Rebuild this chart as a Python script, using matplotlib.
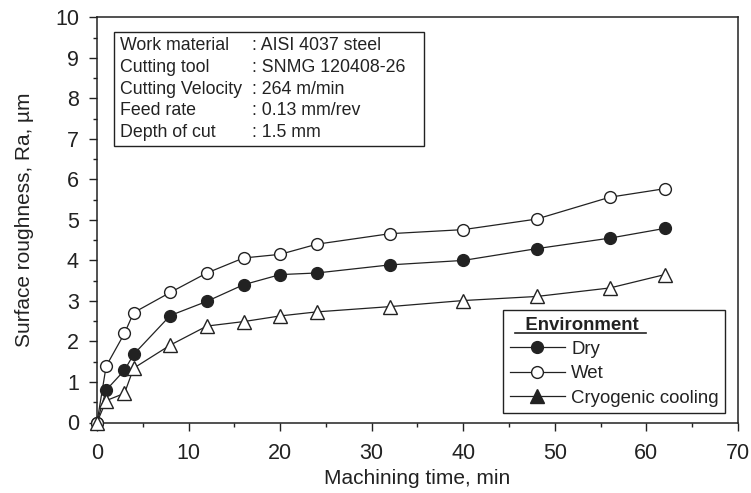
import matplotlib
matplotlib.use("Agg")
import matplotlib.pyplot as plt
from matplotlib.lines import Line2D
from matplotlib.patches import Rectangle
from matplotlib.ticker import MultipleLocator

plt.rcParams['font.family'] = ['Liberation Sans', 'DejaVu Sans']

# ---- data ----
time_min = [0, 1, 3, 4, 8, 12, 16, 20, 24, 32, 40, 48, 56, 62]
dry = [0, 0.80, 1.29, 1.68, 2.64, 2.99, 3.40, 3.65, 3.69, 3.89, 4.00, 4.29, 4.55, 4.79]
wet = [0, 1.39, 2.20, 2.71, 3.21, 3.69, 4.06, 4.15, 4.40, 4.66, 4.76, 5.02, 5.56, 5.77]
cryo = [0, 0.54, 0.72, 1.34, 1.91, 2.38, 2.49, 2.63, 2.73, 2.86, 3.01, 3.11, 3.32, 3.65]
series_labels = ["Dry", "Wet", "Cryogenic cooling"]
legend_title = "Environment"
info_keys = ["Work material", "Cutting tool", "Cutting Velocity", "Feed rate", "Depth of cut"]
info_vals = [": AISI 4037 steel", ": SNMG 120408-26", ": 264 m/min", ": 0.13 mm/rev", ": 1.5 mm"]
x_label = "Machining time, min"
y_label = "Surface roughness, Ra, \u00b5m"

W, H = 751, 493
fig = plt.figure(figsize=(W / 100, H / 100), dpi=100)
L, R, T, B = 97, 738, 17.3, 422.5
ax = fig.add_axes([L / W, 1 - B / H, (R - L) / W, (B - T) / H])

tc = '#222222'
lw = 0.9
ms = 8.5
ax.plot(time_min, dry, '-', color=tc, lw=lw, marker='o', ms=ms, mfc=tc, mec=tc, mew=1.0, clip_on=False, zorder=3)
ax.plot(time_min, wet, '-', color=tc, lw=lw, marker='o', ms=ms, mfc='white', mec=tc, mew=1.0, clip_on=False, zorder=3)
ax.plot(time_min, cryo, '-', color=tc, lw=lw, marker='^', ms=ms + 1, mfc='white', mec=tc, mew=1.0, clip_on=False, zorder=3)

ax.set_xlim(0, 70)
ax.set_ylim(0, 10)
ax.xaxis.set_major_locator(MultipleLocator(10))
ax.xaxis.set_minor_locator(MultipleLocator(5))
ax.yaxis.set_major_locator(MultipleLocator(1))
ax.yaxis.set_minor_locator(MultipleLocator(0.5))
ax.tick_params(which='major', direction='out', length=6, width=1.0, color=tc,
               labelsize=15.5, labelcolor=tc)
ax.tick_params(axis='x', which='major', pad=9)
ax.tick_params(axis='y', which='major', pad=7)
ax.tick_params(which='minor', direction='out', length=3, width=1.0, color=tc)
for s in ax.spines.values():
    s.set_linewidth(1.1)
    s.set_color(tc)

ax.set_xlabel(x_label, fontsize=15, color=tc, labelpad=3)
ax.set_ylabel(y_label, fontsize=15, color=tc, labelpad=15)

# ---- info box ----
def px2ax(x, y):
    return (x - L) / (R - L), (B - y) / (B - T)

bx0, by0 = px2ax(114, 146)
bx1, by1 = px2ax(424, 31.7)
ax.add_patch(Rectangle((bx0, by0), bx1 - bx0, by1 - by0, transform=ax.transAxes,
                       fill=True, facecolor='white', edgecolor=tc, lw=1.0, zorder=4))
for i, (k, v) in enumerate(zip(info_keys, info_vals)):
    yy = 45.7 + 21.75 * i
    kx, ky = px2ax(120, yy)
    vx, _ = px2ax(252, yy)
    ax.text(kx, ky, k, transform=ax.transAxes, fontsize=12.8, color=tc, va='center', ha='left', zorder=5)
    ax.text(vx, ky, v, transform=ax.transAxes, fontsize=12.8, color=tc, va='center', ha='left', zorder=5)

# ---- legend ----
handles = [
    Line2D([], [], color=tc, lw=lw, marker='o', ms=ms, mfc=tc, mec=tc),
    Line2D([], [], color=tc, lw=lw, marker='o', ms=ms, mfc='white', mec=tc),
    Line2D([], [], color=tc, lw=lw, marker='^', ms=ms + 1, mfc=tc, mec=tc),
]
lx, ly = px2ax(503, 310)
leg = ax.legend(handles, series_labels, loc='upper left', bbox_to_anchor=(lx, ly),
                borderaxespad=0, fancybox=False, edgecolor=tc, framealpha=1,
                fontsize=13.4, title="   " + legend_title, alignment='left',
                title_fontproperties={'weight': 'bold', 'size': 13.4},
                handlelength=3.0, handletextpad=0.32, labelspacing=0.4,
                borderpad=0.35, labelcolor=tc)
leg.get_frame().set_linewidth(1.0)
leg.get_title().set_color(tc)
leg.set_zorder(6)

# underline of legend title
fig.add_artist(Line2D([515 / W, 646 / W], [1 - 333 / H, 1 - 333 / H], color=tc, lw=1.2, zorder=7))

fig.savefig("out.png", dpi=100)
